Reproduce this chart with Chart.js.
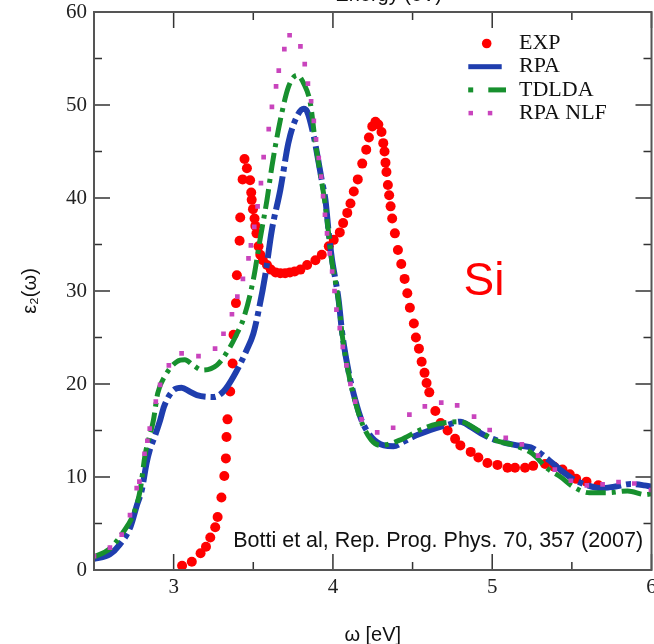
<!DOCTYPE html>
<html>
<head>
<meta charset="utf-8">
<title>Si imaginary dielectric function</title>
<script src="https://cdn.jsdelivr.net/npm/chart.js@4.4.1/dist/chart.umd.min.js"></script>
<style>
  html, body { margin: 0; padding: 0; background: #fff; overflow: hidden; }
  #wrap { position: relative; width: 654px; height: 644px; overflow: hidden; }
  #spectrum { position: absolute; left: 0; top: -30px; }
</style>
</head>
<body>
<div id="wrap"><canvas id="spectrum" width="720" height="700"></canvas></div>
<script>
// Experimental points (photon energy in eV, eps2)
const expEnergy = [3.053, 3.114, 3.169, 3.203, 3.230, 3.261, 3.276, 3.300, 3.318, 3.328, 3.332, 3.338, 3.355,
  3.370, 3.376, 3.391, 3.397, 3.414, 3.418, 3.433, 3.445, 3.460, 3.480, 3.487, 3.490, 3.498, 3.508, 3.513,
  3.520, 3.533, 3.544, 3.560, 3.586, 3.610, 3.640, 3.670, 3.700, 3.730, 3.760, 3.796, 3.838, 3.890, 3.930,
  3.974, 4.005, 4.043, 4.064, 4.090, 4.110, 4.131, 4.156, 4.184, 4.209, 4.226, 4.247, 4.267, 4.285, 4.305,
  4.316, 4.324, 4.330, 4.336, 4.345, 4.353, 4.362, 4.372, 4.389, 4.408, 4.429, 4.450, 4.467, 4.483, 4.508,
  4.521, 4.540, 4.557, 4.575, 4.588, 4.605, 4.643, 4.676, 4.720, 4.767, 4.800, 4.865, 4.913, 4.970, 5.033,
  5.096, 5.143, 5.206, 5.257, 5.332, 5.389, 5.441, 5.487, 5.527, 5.592, 5.666];
const expEps = [0.46, 0.89, 1.8, 2.5, 3.5, 4.6, 5.7, 7.8, 10.1, 12.0, 14.3, 16.2, 19.2,
  22.2, 25.3, 28.7, 31.7, 35.4, 37.9, 42.0, 44.2, 43.2, 41.9, 40.6, 39.8, 38.8, 37.8, 37.0,
  36.2, 34.8, 33.9, 33.3, 32.8, 32.3, 32.0, 31.9, 31.9, 32.0, 32.1, 32.3, 32.8, 33.3, 33.9,
  34.8, 35.5, 36.3, 37.3, 38.4, 39.4, 40.7, 42.0, 43.7, 45.2, 46.5, 47.7, 48.2, 47.9, 47.1,
  45.9, 45.0, 43.8, 42.8, 41.4, 40.3, 39.1, 37.8, 36.2, 34.4, 32.9, 31.3, 29.75, 28.2, 26.5,
  25.0, 23.8, 22.4, 21.2, 20.1, 19.1, 17.1, 15.8, 15.0, 14.1, 13.4, 12.7, 12.1, 11.5, 11.3,
  11.0, 11.0, 11.0, 11.2, 11.4, 11.1, 10.8, 10.3, 9.8, 9.5, 9.1];

// RPA with local fields
const rpaEnergy = [2.50, 2.60, 2.66, 2.73, 2.77, 2.80, 2.83, 2.85, 2.88, 2.915, 2.94, 3.00, 3.05, 3.10, 3.146,
  3.25, 3.313, 3.376, 3.46, 3.50, 3.53, 3.575, 3.617, 3.67, 3.72, 3.764, 3.817, 3.838, 3.88, 3.90, 3.93,
  3.953, 3.974, 3.995, 4.016, 4.036, 4.058, 4.10, 4.14, 4.18, 4.247, 4.32, 4.38, 4.445, 4.50, 4.613,
  4.718, 4.80, 4.865, 4.95, 5.053, 5.158, 5.253, 5.357, 5.43, 5.515, 5.60, 5.682, 5.766, 5.87, 5.955, 6.00];
const rpaEps = [1.2, 1.7, 2.7, 4.7, 7.0, 8.6, 11.5, 12.9, 14.3, 16.1, 17.6, 19.35, 19.6, 19.2, 18.8,
  18.6, 19.2, 20.8, 23.7, 25.4, 27.6, 31.7, 36.6, 40.9, 45.9, 48.4, 49.6, 49.3, 46.6, 44.8, 41.9,
  39.8, 36.2, 33.3, 31.2, 29.0, 25.5, 21.2, 18.3, 16.1, 14.2, 13.4, 13.3, 13.8, 14.3, 15.05,
  15.6, 15.95, 15.4, 14.5, 13.8, 13.4, 13.1, 11.8, 10.75, 9.7, 9.1, 8.8, 8.96, 9.25, 9.1, 8.96];

// TDLDA
const tdldaEnergy = [2.50, 2.60, 2.68, 2.75, 2.79, 2.82, 2.873, 2.90, 2.947, 3.02, 3.07, 3.125, 3.177, 3.27,
  3.345, 3.397, 3.44, 3.50, 3.544, 3.586, 3.617, 3.67, 3.722, 3.775, 3.817, 3.858, 3.89, 3.92, 3.953,
  3.974, 3.995, 4.016, 4.036, 4.058, 4.10, 4.14, 4.18, 4.24, 4.30, 4.425, 4.546, 4.655, 4.80, 4.907,
  5.01, 5.137, 5.253, 5.347, 5.43, 5.505, 5.61, 5.725, 5.85, 5.965, 6.00];
const tdldaEps = [1.4, 2.3, 4.0, 6.1, 8.6, 12.3, 16.1, 19.0, 20.9, 22.4, 22.6, 22.0, 21.5, 22.0,
  23.7, 25.4, 27.1, 31.2, 35.7, 39.8, 43.4, 48.4, 52.0, 53.2, 52.3, 50.2, 45.9, 42.7, 39.1,
  36.0, 33.0, 31.0, 28.8, 25.3, 21.0, 18.1, 15.9, 14.0, 13.4, 14.0, 15.05, 15.7, 15.95, 15.05,
  14.0, 13.4, 12.5, 10.9, 10.0, 9.0, 8.3, 8.3, 8.5, 8.1, 8.2];

// RPA without local fields (sampled points)
const nlfEnergy = [2.50, 2.60, 2.674, 2.726, 2.768, 2.785, 2.817, 2.835, 2.85, 2.888, 2.915, 2.97, 3.05,
  3.156, 3.26, 3.313, 3.366, 3.40, 3.435, 3.47, 3.485, 3.506, 3.527, 3.548, 3.565, 3.597, 3.617, 3.643,
  3.66, 3.695, 3.728, 3.796, 3.823, 3.843, 3.863, 3.88, 3.894, 3.911, 3.926, 3.938, 3.95, 3.963, 3.98,
  3.995, 4.01, 4.022, 4.043, 4.062, 4.085, 4.11, 4.14, 4.18, 4.278, 4.378, 4.48, 4.577, 4.68, 4.78,
  4.886, 4.984, 5.085, 5.186, 5.288, 5.393, 5.494, 5.594, 5.693, 5.793, 5.892, 5.997];
const nlfEps = [1.5, 2.4, 3.8, 5.9, 8.8, 9.5, 12.5, 13.9, 15.2, 18.1, 19.9, 22.0, 23.3,
  23.0, 23.8, 25.4, 27.5, 29.4, 31.3, 33.5, 34.9, 36.9, 39.1, 41.6, 44.4, 47.4, 49.8, 52.0,
  53.7, 56.0, 57.5, 56.3, 54.4, 52.3, 50.4, 48.3, 46.3, 44.3, 42.3, 40.2, 38.2, 36.2, 34.05,
  32.1, 30.0, 28.0, 26.0, 24.0, 22.0, 20.0, 18.1, 16.2, 14.8, 15.3, 16.7, 17.6, 18.0, 17.7,
  16.5, 15.05, 14.2, 13.5, 12.3, 10.8, 9.6, 9.1, 9.2, 9.46, 9.3, 8.6];

// Axis ticks
const energyTicks = [3, 4, 5, 6];
const energyMinorTicks = [2.5, 3.5, 4.5, 5.5];
const epsTicks = [0, 10, 20, 30, 40, 50, 60];
const epsMinorTicks = [5, 15, 25, 35, 45, 55];

const toPoints = (xs, ys) => xs.map((v, i) => ({ x: v, y: ys[i] }));

const serif = '"Liberation Serif", "Times New Roman", serif';
const sans = '"Liberation Sans", Arial, sans-serif';

// Boxed frame with inward major/minor ticks on all four sides
const frameTicks = {
    id: 'frameTicks',
    afterDraw(chart) {
        const { ctx, chartArea: a, scales: { x, y } } = chart;
        ctx.save();
        ctx.strokeStyle = '#333';
        ctx.lineWidth = 1.5;
        ctx.beginPath();
        energyTicks.concat(energyMinorTicks).forEach(v => {
            const px = x.getPixelForValue(v);
            const len = energyTicks.includes(v) ? 16 : 8;
            ctx.moveTo(px, a.bottom); ctx.lineTo(px, a.bottom - len);
            ctx.moveTo(px, a.top); ctx.lineTo(px, a.top + len);
        });
        epsTicks.concat(epsMinorTicks).forEach(v => {
            const py = y.getPixelForValue(v);
            const len = epsTicks.includes(v) ? 16 : 8;
            ctx.moveTo(a.left, py); ctx.lineTo(a.left + len, py);
            ctx.moveTo(a.right, py); ctx.lineTo(a.right - len, py);
        });
        ctx.stroke();
        ctx.strokeStyle = '#555';
        ctx.lineWidth = 2;
        ctx.strokeRect(a.left, a.top, a.right - a.left, a.bottom - a.top);
        ctx.restore();
    }
};

// Legend box, labels and the top axis title
const annotations = {
    id: 'annotations',
    afterDraw(chart) {
        const { ctx, chartArea: a, scales: { x, y } } = chart;
        const ds = chart.data.datasets;
        ctx.save();

        ctx.textAlign = 'left';
        ctx.textBaseline = 'alphabetic';
        ctx.fillStyle = '#ff0000';
        ctx.font = '46px ' + sans;
        ctx.fillText('Si', x.getPixelForValue(4.82), y.getPixelForValue(29.6));

        ctx.fillStyle = '#111';
        ctx.font = '21.5px ' + sans;
        ctx.fillText('Botti et al, Rep. Prog. Phys. 70, 357 (2007)', x.getPixelForValue(3.374), y.getPixelForValue(2.47));

        ctx.textAlign = 'center';
        ctx.font = '20px ' + sans;
        ctx.fillText('Energy (eV)', x.getPixelForValue(4.35), a.top - 11.5);

        // legend
        const left = a.left;
        const rows = ds.map((d, i) => a.top + 31.5 + i * 23.2);
        ctx.textAlign = 'left';
        ctx.textBaseline = 'middle';
        ctx.font = '22px ' + serif;
        ds.forEach((d, i) => {
            const ry = rows[i];
            ctx.fillStyle = '#111';
            ctx.fillText(d.label, left + 425, ry);
            if (d.label === 'EXP') {
                ctx.fillStyle = d.backgroundColor;
                ctx.beginPath();
                ctx.arc(left + 392.7, ry, 4.8, 0, Math.PI * 2);
                ctx.fill();
            } else if (d.label === 'RPA') {
                ctx.fillStyle = d.borderColor;
                ctx.fillRect(left + 374.3, ry - 2.5, 33.4, 5);
            } else if (d.label === 'TDLDA') {
                ctx.fillStyle = d.borderColor;
                ctx.fillRect(left + 374.2, ry - 2.5, 5, 5);
                ctx.fillRect(left + 394.3, ry - 2.5, 17.7, 5);
            } else {
                ctx.fillStyle = d.backgroundColor;
                ctx.fillRect(left + 374.5, ry - 2.25, 4.5, 4.5);
                ctx.fillRect(left + 393.8, ry - 2.25, 4.5, 4.5);
            }
        });
        ctx.restore();
    }
};

const ctx = document.getElementById('spectrum').getContext('2d');
const spectrumChart = new Chart(ctx, {
    type: 'line',
    data: {
        datasets: [
            { label: 'EXP', data: toPoints(expEnergy, expEps), showLine: false, order: 4,
              pointStyle: 'circle', pointRadius: 5, pointBorderWidth: 0,
              backgroundColor: '#ff0000', borderColor: '#ff0000' },
            { label: 'RPA', data: toPoints(rpaEnergy, rpaEps), order: 3,
              borderColor: '#1f3eae', borderWidth: 6, borderDash: [34, 5, 5, 5],
              pointRadius: 0, cubicInterpolationMode: 'monotone', fill: false },
            { label: 'TDLDA', data: toPoints(tdldaEnergy, tdldaEps), order: 2,
              borderColor: '#17902e', borderWidth: 5, borderDash: [20, 6, 4, 6],
              pointRadius: 0, cubicInterpolationMode: 'monotone', fill: false },
            { label: 'RPA NLF', data: toPoints(nlfEnergy, nlfEps), showLine: false, order: 1,
              pointStyle: 'rect', pointRadius: 3.3, pointBorderWidth: 0,
              backgroundColor: '#c944bd', borderColor: '#c944bd' },
        ],
    },
    options: {
        responsive: false,
        animation: false,
        events: [],
        layout: { padding: 0 },
        plugins: { legend: { display: false }, tooltip: { enabled: false } },
        scales: {
            x: {
                type: 'linear', position: 'bottom', min: 2.5, max: 6,
                afterBuildTicks: s => { s.ticks = energyTicks.map(v => ({ value: v })); },
                afterFit: s => { s.height = 100; },
                grid: { display: false, drawTicks: false },
                border: { display: false },
                ticks: { color: '#222', padding: 5, maxRotation: 0, autoSkip: false,
                         font: { family: serif, size: 21 }, callback: v => String(v) },
                title: { display: true, text: 'ω [eV]', color: '#111',
                         font: { family: sans, size: 20 }, padding: { top: 0, bottom: 23 } },
            },
            y: {
                type: 'linear', position: 'left', min: 0, max: 60,
                afterBuildTicks: s => { s.ticks = epsTicks.map(v => ({ value: v })); },
                afterFit: s => { s.width = 94; },
                grid: { display: false, drawTicks: false },
                border: { display: false },
                ticks: { color: '#222', padding: 7, font: { family: serif, size: 21 }, callback: v => String(v) },
                title: { display: true, text: 'ε₂(ω)', color: '#111',
                         font: { family: sans, size: 20 }, padding: { top: 18, bottom: 0 } },
            },
            x2: {
                type: 'linear', position: 'top', min: 2.5, max: 6,
                afterFit: s => { s.height = 42; },
                grid: { display: false, drawTicks: false },
                border: { display: false },
                ticks: { display: false },
            },
            y2: {
                type: 'linear', position: 'right', min: 0, max: 60,
                afterFit: s => { s.width = 68.5; },
                grid: { display: false, drawTicks: false },
                border: { display: false },
                ticks: { display: false },
            },
        },
    },
    plugins: [frameTicks, annotations],
});
</script>
</body>
</html>
